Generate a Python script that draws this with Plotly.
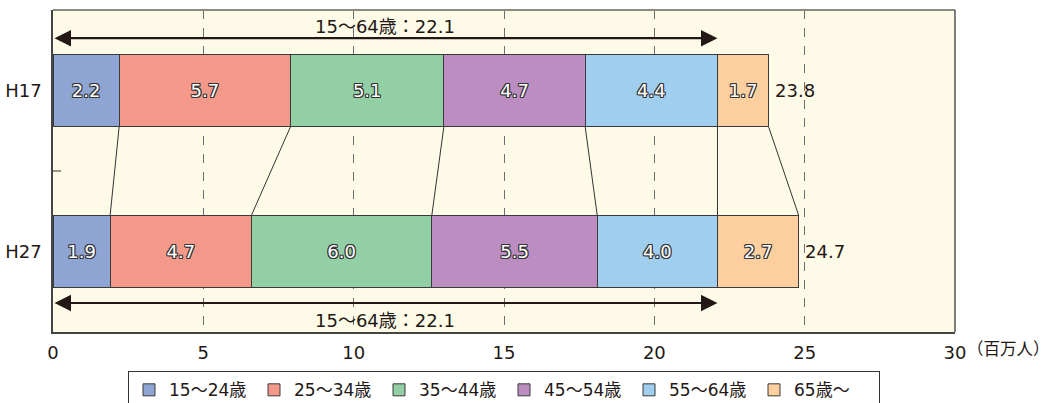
import plotly.graph_objects as go

# Survey years and their row positions on the vertical axis
years = ["H17", "H27"]
year_pos = [1, 3]

# Age groups and values (millions of people)
age_groups = ["15～24歳", "25～34歳", "35～44歳", "45～54歳", "55～64歳", "65歳～"]
values_h17 = [2.2, 5.7, 5.1, 4.7, 4.4, 1.7]
values_h27 = [1.9, 4.7, 6.0, 5.5, 4.0, 2.7]
totals = [23.8, 24.7]
working_age_total = [22.1, 22.1]

colors = ["#8EA4D2", "#F4998A", "#93CFA5", "#BB8DC0", "#A0CEEE", "#FDCF9E"]

x_ticks = [0, 5, 10, 15, 20, 25, 30]

FONT = "'DejaVu Sans', 'Noto Sans CJK JP', sans-serif"
TEXT_COLOR = "#231815"
OUTLINE = ("-1px -1px 0 #333, 1px -1px 0 #333, -1px 1px 0 #333, 1px 1px 0 #333, "
           "0 1px 0 #333, 0 -1px 0 #333, 1px 0 0 #333, -1px 0 0 #333")

fig = go.Figure()

for i, grp in enumerate(age_groups):
    vals = [values_h17[i], values_h27[i]]
    fig.add_trace(go.Bar(
        x=vals,
        y=year_pos,
        orientation="h",
        name=grp,
        width=0.9,
        marker=dict(color=colors[i], line=dict(color="#3a3a3a", width=1)),
        text=[f"{v:.1f}" for v in vals],
        textposition="inside",
        insidetextanchor="middle",
        textangle=0,
        textfont=dict(family=FONT, size=18, color="white", shadow=OUTLINE),
        hoverinfo="skip",
    ))

# Connector lines between matching segment boundaries of the two bars
cum17, cum27 = [], []
s17 = s27 = 0.0
for a, b in zip(values_h17, values_h27):
    s17 += a
    s27 += b
    cum17.append(s17)
    cum27.append(s27)
for a, b in zip(cum17, cum27):
    fig.add_shape(type="line", x0=a, x1=b, y0=year_pos[0] + 0.45, y1=year_pos[1] - 0.45,
                  xref="x", yref="y", line=dict(color="#333333", width=1), layer="below")

# Totals beside each bar
for yp, tot, seg_end in zip(year_pos, totals, [cum17[-1], cum27[-1]]):
    fig.add_annotation(x=seg_end, y=yp, xref="x", yref="y", text=f"{tot:.1f}",
                       showarrow=False, xanchor="left", xshift=4,
                       font=dict(family=FONT, size=18, color=TEXT_COLOR))

# Working-age span arrows with labels (above H17 and below H27)
for arrow_y, label_y, tot in [(0.35, 0.21, working_age_total[0]), (3.64, 3.86, working_age_total[1])]:
    fig.add_annotation(x=tot, y=arrow_y, ax=0, ay=arrow_y, xref="x", yref="y",
                       axref="x", ayref="y", text="", showarrow=True,
                       arrowhead=2, arrowside="end+start", arrowsize=1.5,
                       arrowwidth=2.2, arrowcolor="#231815")
    fig.add_annotation(x=tot / 2, y=label_y, xref="x", yref="y",
                       text=f"15～64歳：{tot:.1f}", showarrow=False,
                       font=dict(family=FONT, size=18, color=TEXT_COLOR))

# Unit label next to the last x tick
fig.add_annotation(x=x_ticks[-1], y=0, xref="x", yref="paper", text="（百万人）",
                   showarrow=False, xanchor="left", yanchor="top", xshift=10, yshift=-6,
                   font=dict(family=FONT, size=16.5, color=TEXT_COLOR))

# Short inner tick between the two rows
fig.add_shape(type="line", xref="paper", yref="y", x0=0, x1=0.009, y0=2, y1=2,
              line=dict(color="#333333", width=1))

# Plot frame
fig.add_shape(type="line", xref="paper", yref="paper", x0=0, x1=1, y0=1, y1=1,
              line=dict(color="#8a8a80", width=2))
fig.add_shape(type="line", xref="paper", yref="paper", x0=1, x1=1, y0=0, y1=1,
              line=dict(color="#555555", width=1.5))

fig.update_layout(
    barmode="stack",
    width=1054,
    height=403,
    margin=dict(l=53, r=99, t=10, b=71, autoexpand=False),
    paper_bgcolor="white",
    plot_bgcolor="#FEFAE8",
    font=dict(family=FONT, size=16, color=TEXT_COLOR),
    showlegend=True,
    legend=dict(
        orientation="h", x=0.5, xanchor="center", y=-0.122, yanchor="top",
        bordercolor="#333333", borderwidth=1, bgcolor="white",
        font=dict(family=FONT, size=17, color=TEXT_COLOR),
        itemwidth=30, tracegroupgap=0, traceorder="normal",
        entrywidth=80, entrywidthmode="pixels",
    ),
    xaxis=dict(
        range=[0, 30], tickvals=x_ticks, ticktext=[str(t) for t in x_ticks],
        showgrid=True, gridcolor="#6e6e6e", griddash="dash", gridwidth=1,
        zeroline=False, showline=True, linecolor="#444444", linewidth=1.5,
        ticks="", ticklabelstandoff=4, tickfont=dict(family=FONT, size=18, color=TEXT_COLOR),
        fixedrange=True,
    ),
    yaxis=dict(
        range=[4, 0], tickvals=year_pos, ticktext=years,
        showgrid=False, zeroline=False, showline=True, linecolor="#444444", linewidth=1.5,
        ticks="", ticklabelstandoff=6, tickfont=dict(family=FONT, size=18, color=TEXT_COLOR),
        fixedrange=True,
    ),
)

fig.write_html("out.html")
